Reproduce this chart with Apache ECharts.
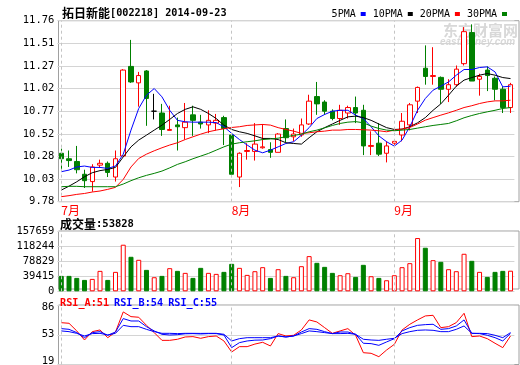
<!DOCTYPE html>
<html><head><meta charset="utf-8">
<script src="https://cdn.jsdelivr.net/npm/echarts@6/dist/echarts.min.js"></script>
<style>html,body{margin:0;padding:0;background:#fff}#c{width:520px;height:365px}</style>
</head><body><div id="c"></div>
<script>
const dates = [
'2014-07-02','2014-07-03','2014-07-04','2014-07-07','2014-07-08','2014-07-09','2014-07-10','2014-07-11',
'2014-07-14','2014-07-15','2014-07-16','2014-07-17','2014-07-18','2014-07-21','2014-07-22','2014-07-23',
'2014-07-24','2014-07-25','2014-07-28','2014-07-29','2014-07-30','2014-07-31',
'2014-08-01','2014-08-04','2014-08-05','2014-08-06','2014-08-07','2014-08-08','2014-08-11','2014-08-12',
'2014-08-13','2014-08-14','2014-08-15','2014-08-18','2014-08-19','2014-08-20','2014-08-21','2014-08-22',
'2014-08-25','2014-08-26','2014-08-27','2014-08-28','2014-08-29',
'2014-09-01','2014-09-02','2014-09-03','2014-09-04','2014-09-05','2014-09-09','2014-09-10','2014-09-11',
'2014-09-12','2014-09-15','2014-09-16','2014-09-17','2014-09-18','2014-09-19','2014-09-22','2014-09-23'];

const openP  = [10.31,10.25,10.22,10.08,10.00,10.18,10.20,10.05,10.28,11.26,11.08,11.21,10.77,10.75,10.56,10.62,10.59,10.73,10.65,10.62,10.64,10.70,10.51,10.05,10.33,10.33,10.37,10.35,10.32,10.58,10.49,10.51,10.63,10.93,10.87,10.77,10.69,10.75,10.81,10.78,10.385,10.42,10.31,10.42,10.51,10.62,10.88,11.24,11.15,11.14,11.01,11.06,11.29,11.63,11.12,11.22,11.13,11.01,10.81];
const closeP = [10.25,10.23,10.13,10.01,10.16,10.20,10.10,10.25,11.22,11.09,11.16,10.91,10.77,10.57,10.57,10.60,10.65,10.67,10.63,10.67,10.67,10.58,10.08,10.31,10.34,10.41,10.38,10.32,10.52,10.48,10.52,10.62,10.88,10.85,10.77,10.69,10.78,10.81,10.75,10.39,10.395,10.30,10.39,10.44,10.66,10.84,11.03,11.15,11.16,11.01,11.06,11.23,11.64,11.10,11.15,11.16,11.01,10.81,11.06];
const lowP   = [10.13,10.16,10.09,9.93,9.89,10.15,10.05,10.00,10.28,11.08,10.82,10.61,10.68,10.50,10.56,10.34,10.46,10.50,10.58,10.53,10.56,10.40,10.07,9.94,10.24,10.23,10.36,10.26,10.32,10.43,10.44,10.49,10.62,10.73,10.73,10.67,10.62,10.69,10.64,10.29,10.29,10.28,10.21,10.38,10.44,10.56,10.75,11.06,11.06,10.85,10.87,11.04,11.27,11.10,10.94,10.99,10.89,10.75,10.75];
const highP  = [10.36,10.34,10.39,10.13,10.19,10.24,10.22,10.34,11.23,11.55,11.20,11.22,10.96,10.85,10.83,10.70,10.86,10.83,10.73,10.78,10.74,10.72,10.53,10.32,10.42,10.64,10.63,10.43,10.53,10.68,10.58,10.69,10.95,11.09,10.89,10.79,10.84,10.83,10.93,10.84,10.55,10.64,10.44,10.45,10.75,10.86,11.04,11.49,11.47,11.15,11.12,11.27,11.69,11.72,11.18,11.26,11.15,11.04,11.08];

const ma5  = [10.108,10.126,10.16,10.17,10.155,10.155,10.144,10.17,10.30,10.563,10.80,10.945,11.018,10.927,10.78,10.67,10.654,10.65,10.65,10.65,10.645,10.60,10.527,10.46,10.40,10.344,10.315,10.344,10.38,10.417,10.436,10.508,10.59,10.69,10.734,10.77,10.78,10.78,10.727,10.69,10.60,10.50,10.436,10.388,10.454,10.60,10.78,10.909,11.0,11.044,11.09,11.164,11.226,11.226,11.248,11.255,11.2,11.036,11.044];
const ma10 = [9.907,9.95,9.998,10.053,10.097,10.12,10.133,10.155,10.27,10.38,10.454,10.508,10.563,10.617,10.68,10.745,10.79,10.818,10.79,10.745,10.69,10.617,10.57,10.545,10.527,10.50,10.472,10.472,10.46,10.425,10.417,10.41,10.48,10.545,10.59,10.63,10.67,10.708,10.716,10.70,10.67,10.63,10.59,10.57,10.574,10.60,10.643,10.70,10.78,10.85,10.945,11.044,11.11,11.138,11.164,11.182,11.164,11.138,11.127];
const ma20 = [9.835,9.846,9.86,9.87,9.886,9.897,9.915,9.937,10.024,10.16,10.253,10.30,10.337,10.37,10.40,10.425,10.46,10.49,10.519,10.545,10.563,10.578,10.592,10.60,10.614,10.62,10.625,10.618,10.59,10.57,10.552,10.527,10.534,10.545,10.552,10.563,10.563,10.57,10.57,10.567,10.563,10.556,10.545,10.563,10.574,10.592,10.63,10.672,10.70,10.727,10.752,10.78,10.81,10.83,10.854,10.872,10.883,10.883,10.89];
const ma30 = [9.944,9.948,9.948,9.944,9.944,9.944,9.944,9.944,9.973,10.01,10.042,10.068,10.09,10.115,10.15,10.188,10.217,10.25,10.279,10.308,10.344,10.38,10.41,10.425,10.436,10.446,10.46,10.466,10.475,10.49,10.505,10.519,10.545,10.563,10.588,10.614,10.636,10.65,10.656,10.643,10.607,10.581,10.563,10.556,10.563,10.57,10.585,10.60,10.614,10.625,10.636,10.665,10.698,10.723,10.745,10.763,10.78,10.80,10.81];

const volume = [40291,40291,35036,29781,32408,53430,29781,50802,121750,90218,82335,56058,36788,40291,60437,53430,48175,35036,61313,48175,45547,50802,71824,61313,42919,52554,63065,35036,57809,40291,36788,65693,91970,74452,63941,48175,42043,47299,37664,69196,39416,35036,28905,42043,63065,73576,139268,113867,81459,77079,57809,52554,98101,79707,50802,37664,50802,53430,53828];

const rsiA = [66.1,65.4,56.8,46.6,56.0,57.9,49.2,55.6,78.2,72.9,72.2,63.1,54.9,46.2,46.2,47.4,50.0,50.4,48.5,50.4,51.1,45.5,33.1,39.1,39.1,42.0,44.0,39.9,53.8,51.1,51.9,57.9,69.2,66.9,60.5,54.1,56.8,59.4,51.9,32.3,31.6,27.8,35.3,41.7,57.9,64.3,69.2,73.7,74.4,60.5,61.6,66.2,76.7,50.4,51.1,48.1,42.9,38.0,51.1];
const rsiB = [59.4,58.6,54.9,49.2,54.9,56.0,51.9,55.6,70.7,68.0,68.0,61.6,56.8,53.0,52.2,52.6,53.6,53.8,53.4,53.8,53.8,52.2,38.0,43.6,45.5,46.4,46.6,48.1,51.1,50.0,51.1,55.6,59.4,58.6,56.0,53.8,55.6,55.6,53.0,42.9,42.5,40.6,44.4,48.1,56.8,60.5,63.1,63.9,64.3,58.6,59.4,62.4,69.2,54.1,53.8,51.9,49.2,45.5,54.1];
const rsiC = [56.8,56.0,54.1,51.1,53.8,54.1,52.2,54.1,63.1,61.6,61.6,58.6,56.0,54.1,54.1,53.8,54.1,54.1,54.0,54.1,54.1,53.0,45.5,48.1,49.2,49.2,49.2,49.2,51.1,50.0,51.1,53.8,56.8,56.0,54.9,53.8,53.8,54.1,53.0,47.4,46.6,46.2,47.4,48.5,53.8,56.0,57.5,57.9,57.5,56.0,56.0,58.6,62.4,54.1,54.1,53.8,51.9,49.2,54.9];

const priceTickLabels = ['9.78','10.03','10.28','10.52','10.77','11.02','11.27','11.51','11.76'];
const volTickLabels = ['0','39415','78829','118244','157659'];
const rsiTickLabels = ['19','53','86'];

const PMIN = 9.78, PMAX = 11.76, PINT = (PMAX - PMIN) / 8;
const VMAX = 157659, VINT = VMAX / 4;
const RMIN = 19, RMAX = 86, RINT = (RMAX - RMIN) / 2;

const NUMF = 'DejaVu Sans Mono';
const NUMS = 10.5;
const CJKF = 'Noto Sans CJK SC';
const monthStart = dates.map((d, i) => i === 0 || d.slice(5, 7) !== dates[i - 1].slice(5, 7));
const monthLines = dates.filter((d, i) => monthStart[i]).map(d => ({ xAxis: d }));
const mkLine = {
  symbol: 'none', silent: true, animation: false, label: { show: false },
  lineStyle: { color: '#c4c4c4', type: [3, 3], width: 1 }, data: monthLines
};

const L = 57.4, W = 457;
const grids = [
  { left: L, width: W, top: 20.7, height: 181 },
  { left: L, width: W, top: 231, height: 60.3 },
  { left: L, width: W, top: 305, height: 59.5 },
  { left: 58.5, right: 1, top: 20.7, height: 181, show: true, borderColor: '#a0a0a0', backgroundColor: 'transparent' },
  { left: 58.5, right: 1, top: 231, height: 58, show: true, borderColor: '#a0a0a0', backgroundColor: 'transparent' },
  { left: 58.5, right: 1, top: 305, height: 59.5, show: true, borderColor: '#a0a0a0', backgroundColor: 'transparent' }
].map(g => Object.assign({ outerBoundsMode: 'none', containLabel: false }, g));

const xBase = {
  type: 'category', data: dates, boundaryGap: true,
  axisLine: { show: false }, axisTick: { show: false }, splitLine: { show: false }
};
const yLab = { fontFamily: NUMF, fontSize: NUMS, lineHeight: 10, color: '#000', margin: 3, showMinLabel: true, showMaxLabel: true, hideOverlap: false };
const split = { show: true, lineStyle: { color: '#d4d4d4', width: 1 } };

const upStyle = { color: '#ffffff', borderColor: '#ff0000', borderWidth: 1 };
const downStyle = { color: '#008000', borderColor: '#008000', borderWidth: 1 };

const option = {
  animation: false,
  backgroundColor: '#ffffff',
  grid: grids,
  title: [
    { left: 62, top: 7, padding: 0,
      text: '{cn|拓日新能}{en|[002218] 2014-09-23}',
      textStyle: { rich: { cn: { fontFamily: CJKF, fontSize: 12, color: '#000' }, en: { fontFamily: NUMF, fontSize: 10.2, color: '#000' } } } },
    { left: 60, top: 218, padding: 0,
      text: '{cn|成交量}{en|:53828}',
      textStyle: { rich: { cn: { fontFamily: CJKF, fontSize: 12, color: '#000' }, en: { fontFamily: NUMF, fontSize: NUMS, color: '#000' } } } },
    { left: 60, top: 294, padding: 0,
      text: '{a|RSI_A:51} {b|RSI_B:54} {b|RSI_C:55}',
      textStyle: { rich: { a: { fontFamily: NUMF, fontSize: 10.2, color: '#ff0000' }, b: { fontFamily: NUMF, fontSize: 10.2, color: '#0000ff' } } } }
  ],
  legend: {
    data: ['5PMA', '10PMA', '20PMA', '30PMA'], right: 13, top: 9, padding: 0,
    align: 'right', icon: 'rect', itemWidth: 5, itemHeight: 4, itemGap: 7, selectedMode: false,
    textStyle: { fontFamily: NUMF, fontSize: 10, color: '#000' }
  },
  graphic: [
    { type: 'text', left: 443, top: 23, z: 0, silent: true,
      style: { text: '东方财富网', fill: '#d8d8d8', font: 'bold 15px "Noto Sans CJK SC"' } },
    { type: 'text', left: 440, top: 37, z: 0, silent: true,
      style: { text: 'eastmoney.com', fill: '#d8d8d8', font: 'italic bold 10px "Liberation Sans"' } }
  ],
  xAxis: [
    Object.assign({}, xBase, { gridIndex: 0,
      axisLabel: { show: true, interval: (i) => monthStart[i], align: 'left', margin: 3,
        color: '#ff0000', fontFamily: CJKF, fontSize: 12,
        formatter: (v) => parseInt(v.slice(5, 7), 10) + '月' } }),
    Object.assign({}, xBase, { gridIndex: 1, axisLabel: { show: false } }),
    Object.assign({}, xBase, { gridIndex: 2, axisLabel: { show: false } })
  ],
  yAxis: [
    { type: 'value', gridIndex: 0, min: PMIN, max: PMAX, interval: PINT, scale: true,
      axisLine: { show: false }, axisTick: { show: false }, splitLine: split,
      axisLabel: Object.assign({}, yLab, { formatter: (v) => priceTickLabels[Math.round((v - PMIN) / PINT)] }) },
    { type: 'value', gridIndex: 1, min: 0, max: VMAX, interval: VINT,
      axisLine: { show: false }, axisTick: { show: false }, splitLine: split,
      axisLabel: Object.assign({}, yLab, { formatter: (v) => volTickLabels[Math.round(v / VINT)] }) },
    { type: 'value', gridIndex: 2, min: RMIN, max: RMAX, interval: RINT,
      axisLine: { show: false }, axisTick: { show: false }, splitLine: split,
      axisLabel: Object.assign({}, yLab, {
        formatter: (v) => { const k = Math.round((v - RMIN) / RINT); return k === 0 ? '{z|' + rsiTickLabels[0] + '}' : (k === 2 ? '{t|' + rsiTickLabels[2] + '}' : rsiTickLabels[k]); },
        rich: { z: { fontFamily: NUMF, fontSize: NUMS, lineHeight: 8, color: '#000', padding: [0, 0, 7, 0] },
                t: { fontFamily: NUMF, fontSize: NUMS, lineHeight: 8, color: '#000', padding: [4, 0, 0, 0] } } }) }
  ],
  series: [
    { type: 'candlestick', name: 'K', xAxisIndex: 0, yAxisIndex: 0, barWidth: 5,
      data: dates.map((d, i) => [openP[i], closeP[i], lowP[i], highP[i]]),
      itemStyle: { color: '#ffffff', color0: '#008000', borderColor: '#ff0000', borderColor0: '#008000', borderColorDoji: '#000000', borderWidth: 1 },
      markLine: mkLine },
    { type: 'line', name: '5PMA', data: ma5, xAxisIndex: 0, yAxisIndex: 0, symbol: 'none', color: '#0000ff', lineStyle: { width: 1, color: '#0000ff' } },
    { type: 'line', name: '10PMA', data: ma10, xAxisIndex: 0, yAxisIndex: 0, symbol: 'none', color: '#000000', lineStyle: { width: 1, color: '#000000' } },
    { type: 'line', name: '20PMA', data: ma20, xAxisIndex: 0, yAxisIndex: 0, symbol: 'none', color: '#ff0000', lineStyle: { width: 1, color: '#ff0000' } },
    { type: 'line', name: '30PMA', data: ma30, xAxisIndex: 0, yAxisIndex: 0, symbol: 'none', color: '#008000', lineStyle: { width: 1, color: '#008000' } },
    { type: 'bar', name: 'VOL', xAxisIndex: 1, yAxisIndex: 1, barWidth: 5,
      data: volume.map((v, i) => ({ value: v, itemStyle: closeP[i] >= openP[i] ? upStyle : downStyle })),
      markLine: mkLine },
    { type: 'line', name: 'RSI_A', data: rsiA, xAxisIndex: 2, yAxisIndex: 2, symbol: 'none', lineStyle: { width: 1, color: '#ff0000' }, markLine: mkLine },
    { type: 'line', name: 'RSI_B', data: rsiB, xAxisIndex: 2, yAxisIndex: 2, symbol: 'none', lineStyle: { width: 1, color: '#0000ff' } },
    { type: 'line', name: 'RSI_C', data: rsiC, xAxisIndex: 2, yAxisIndex: 2, symbol: 'none', lineStyle: { width: 1, color: '#0000ff' } }
  ]
};
const chart = echarts.init(document.getElementById('c'), null, { renderer: 'canvas' });
chart.setOption(option);
</script></body></html>
